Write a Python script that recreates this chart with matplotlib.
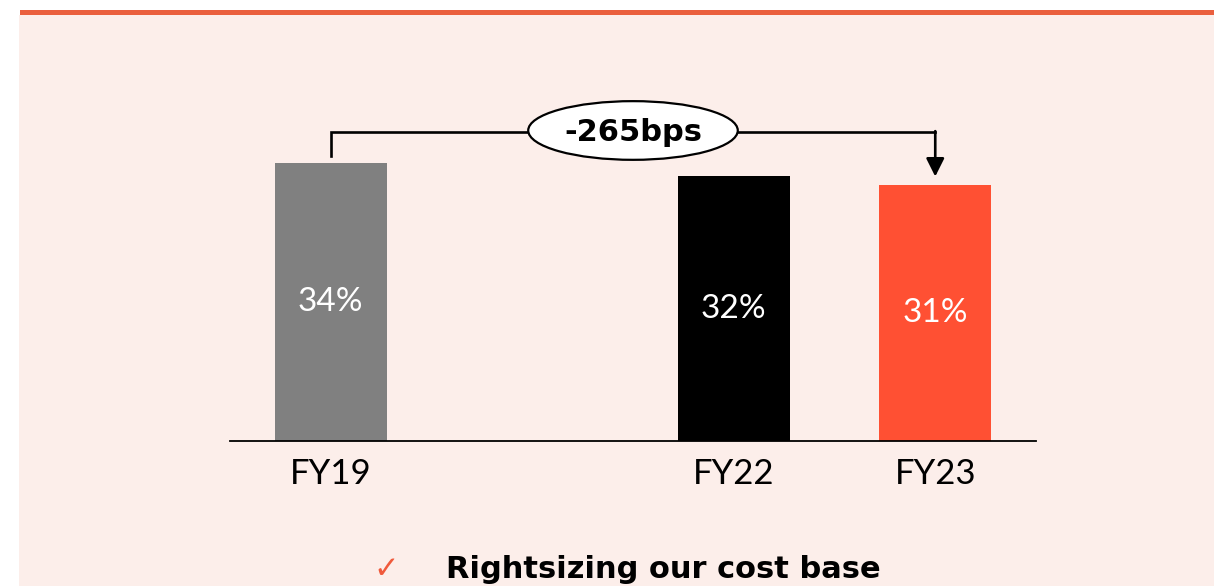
import matplotlib
matplotlib.use("Agg")
import matplotlib.pyplot as plt
from matplotlib.patches import Rectangle, Ellipse

# ---- data ----
positions = [0, 2, 3]
bar_labels = ["FY19", "FY22", "FY23"]
values = [34.1, 32.5, 31.4]
value_texts = ["34%", "32%", "31%"]
bar_colors = ["#808080", "#000000", "#FF5033"]
change_text = "-265bps"
footer_text = "Rightsizing our cost base"

W, H = 1214, 586
fig = plt.figure(figsize=(W / 100, H / 100), dpi=100, facecolor="white")

# background panel and top rule
fig.patches.append(Rectangle((19 / W, 0), 1 - 19 / W, (H - 15) / H,
                             transform=fig.transFigure, facecolor="#FCEEEA",
                             edgecolor="none", zorder=-2))
fig.patches.append(Rectangle((20 / W, (H - 15) / H), 1 - 20 / W, 5 / H,
                             transform=fig.transFigure, facecolor="#EA5F3E",
                             edgecolor="none", zorder=-2))

ax_left, ax_right = 230 / W, 1036 / W
ax_bottom = (H - 441) / H
ax_top_px = 60
ax = fig.add_axes([ax_left, ax_bottom, ax_right - ax_left, (441 - ax_top_px) / H])
ax.set_facecolor("none")

px_per_unit = 8.15
ax.set_xlim(-0.5, 3.5)
ax.set_ylim(0, (441 - ax_top_px) / px_per_unit)

bars = ax.bar(positions, values, width=0.556, color=bar_colors, zorder=2)
for p, v, t in zip(positions, values, value_texts):
    ax.text(p, v / 2, t, ha="center", va="center", color="white",
            fontsize=24, family="Lato", fontweight="normal", zorder=3)

ax.set_xticks(positions)
ax.set_xticklabels(bar_labels, fontsize=25, family="Lato", fontweight="normal")
ax.tick_params(axis="x", length=0, pad=12)
ax.set_yticks([])
for s in ["left", "right", "top"]:
    ax.spines[s].set_visible(False)
ax.spines["bottom"].set_linewidth(1.3)
ax.spines["bottom"].set_color("black")

# bracket annotation
y_br = max(values) + 3.8
x0, x1 = positions[0], positions[-1]
ax.plot([x0, x0, x1], [values[0] + 0.85, y_br, y_br], color="black",
        lw=1.9, solid_joinstyle="miter", zorder=2, clip_on=False)
ax.annotate("", xy=(x1, values[-1] + 1.05), xytext=(x1, y_br + 0.12),
            arrowprops=dict(arrowstyle="-|>,head_length=1.1,head_width=0.55",
                            color="black", lw=1.9, shrinkA=0, shrinkB=0),
            zorder=2, annotation_clip=False)
xm = (x0 + x1) / 2
ax.add_patch(Ellipse((xm, y_br + 0.2), 1.04, 7.2, facecolor="white",
                     edgecolor="black", lw=1.6, zorder=4, clip_on=False))
ax.text(xm, y_br - 0.1, change_text, ha="center", va="center", fontsize=22,
        fontweight="bold", family="DejaVu Sans", zorder=5)

# footer
fig.text(386 / W, (H - 578) / H, "\u2713", ha="center", va="baseline",
         fontsize=22, color="#F05A3C", family="DejaVu Sans")
fig.text(446 / W, (H - 578) / H, footer_text, ha="left", va="baseline",
         fontsize=22, fontweight="bold", family="DejaVu Sans")

fig.savefig("out.png", dpi=100, facecolor="white")
